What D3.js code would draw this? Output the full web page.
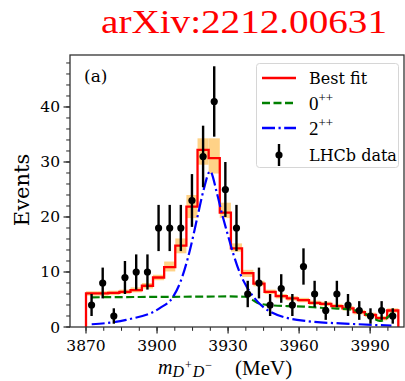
<!DOCTYPE html>
<html>
<head>
<meta charset="utf-8">
<script src="https://cdn.jsdelivr.net/npm/d3@7"></script>
<style>
html,body{margin:0;padding:0;background:#fff;}
svg{display:block;}
</style>
</head>
<body>
<svg id="chart" width="405" height="381"></svg>
<script>
// ---- data ----
const binEdges = [3870.0, 3874.7, 3879.4, 3884.1, 3888.8, 3893.6, 3898.3, 3903.0, 3907.7, 3912.4,
  3917.1, 3921.8, 3926.5, 3931.2, 3935.9, 3940.7, 3945.4, 3950.1, 3954.8, 3959.5,
  3964.2, 3968.9, 3973.6, 3978.3, 3983.0, 3987.8, 3992.5, 3997.2, 4001.9];
const dataCounts = [4, 8, 2, 9, 10, 10, 18, 18, 18, 23, 31, 41, 25, 18, 6, 8, 4, 7, 4, 11, 6, 3, 6, 4, 3, 2, 3, 2];
const dataErrors = [2.0, 2.8, 1.4, 3.0, 3.2, 3.2, 4.2, 4.2, 4.2, 4.8, 5.6, 6.4, 5.0, 4.2, 2.4, 2.8, 2.0, 2.6, 2.0, 3.3, 2.4, 1.7, 2.4, 2.0, 1.7, 1.4, 1.7, 1.4];
const bestFit = [6.1, 6.1, 6.2, 6.4, 6.7, 7.5, 9.0, 10.9, 14.8, 21.9, 32.2, 30.7, 20.8, 14.3, 9.8, 7.9, 6.4, 5.6, 5.2, 4.9, 4.4, 4.2, 3.8, 3.4, 2.7, 2.2, 1.6, 3.0];
const bandLo = [5.7, 5.7, 5.8, 6.0, 6.3, 7.0, 8.5, 10.1, 13.4, 19.8, 29.5, 27.9, 19.8, 13.7, 9.1, 7.4, 6.0, 5.2, 4.8, 4.5, 4.0, 3.8, 3.4, 3.0, 2.3, 1.8, 1.2, 2.6];
const bandHi = [6.5, 6.5, 6.6, 6.8, 7.2, 8.0, 9.5, 11.9, 16.1, 24.0, 34.3, 34.3, 22.6, 15.2, 10.4, 8.4, 6.8, 6.0, 5.6, 5.3, 4.8, 4.6, 4.2, 3.8, 3.1, 2.6, 2.0, 3.4];
// 0++ component (mass MeV, events)
const scalarM = [3872.4, 3890, 3910, 3930, 3937, 3940, 3943, 3947, 3955, 3962, 3969, 3976, 3983, 3987, 3991, 3994, 3997, 3999.2];
const scalarV = [5.4, 5.45, 5.5, 5.55, 5.5, 5.0, 4.3, 4.0, 3.8, 3.7, 3.5, 3.35, 3.1, 2.6, 1.7, 1.1, 1.6, 2.6];
// 2++ component (mass MeV, events)
const tensorM = [3872.4, 3887, 3901, 3906.8, 3909.7, 3913.9, 3916.8, 3919.6, 3922.4, 3925.2, 3927.3, 3929.4, 3932.2, 3935, 3937.9, 3940.7, 3947.7, 3961.7, 3982.8, 3999];
const tensorV = [0.5, 1.3, 3.4, 5.5, 8.0, 14.0, 19.5, 24.8, 28.3, 24.5, 20.8, 17.5, 13.3, 9.8, 7.3, 5.5, 2.8, 1.15, 0.55, 0.25];
const xTicks = [3870, 3900, 3930, 3960, 3990];
const yTicks = [0, 10, 20, 30, 40];
const legendLabels = ["Best fit", "0", "2", "LHCb data"];

// ---- drawing ----
const svg = d3.select("#chart");
const L = 70, R = 404, T = 55, B = 327;
const x = d3.scaleLinear().domain([3863.24, 4004.3]).range([L, R]);
const y = d3.scaleLinear().domain([0, 49.45]).range([B, T]);

svg.append("text").attr("x", 101).attr("y", 33)
  .attr("font-family", "Liberation Serif, Times New Roman, serif")
  .attr("font-size", 34).attr("fill", "#ff0000")
  .attr("textLength", 286).attr("lengthAdjust", "spacingAndGlyphs")
  .text("arXiv:2212.00631");

const plot = svg.append("g");
plot.append("clipPath").attr("id", "clip").append("rect")
  .attr("x", L).attr("y", T).attr("width", R - L).attr("height", B - T);
const g = plot.append("g").attr("clip-path", "url(#clip)");

// uncertainty band
g.selectAll("rect.band").data(bestFit).enter().append("rect")
  .attr("x", (d, i) => x(binEdges[i]))
  .attr("width", (d, i) => x(binEdges[i + 1]) - x(binEdges[i]))
  .attr("y", (d, i) => y(bandHi[i]))
  .attr("height", (d, i) => y(bandLo[i]) - y(bandHi[i]))
  .attr("fill", "#ffd287");

// best-fit step
const stepPts = [[binEdges[0], 0]];
bestFit.forEach((v, i) => { stepPts.push([binEdges[i], v]); stepPts.push([binEdges[i + 1], v]); });
stepPts.push([binEdges[binEdges.length - 1], 0]);
const line = d3.line().x(d => x(d[0])).y(d => y(d[1]));
g.append("path").attr("d", line(stepPts)).attr("fill", "none")
  .attr("stroke", "#ff0000").attr("stroke-width", 2.3);

const smooth = d3.line().x(d => x(d[0])).y(d => y(d[1])).curve(d3.curveMonotoneX);
g.append("path").attr("d", smooth(scalarM.map((m, i) => [m, scalarV[i]])))
  .attr("fill", "none").attr("stroke", "#008000").attr("stroke-width", 2.2)
  .attr("stroke-dasharray", "8,3.5");
g.append("path").attr("d", smooth(tensorM.map((m, i) => [m, tensorV[i]])))
  .attr("fill", "none").attr("stroke", "#0000ff").attr("stroke-width", 2.2)
  .attr("stroke-dasharray", "13,3.5,2.2,3.5");

// data points
const centers = dataCounts.map((c, i) => (binEdges[i] + binEdges[i + 1]) / 2);
g.selectAll("line.err").data(dataCounts).enter().append("line")
  .attr("x1", (d, i) => x(centers[i])).attr("x2", (d, i) => x(centers[i]))
  .attr("y1", (d, i) => y(d + dataErrors[i])).attr("y2", (d, i) => y(d - dataErrors[i]))
  .attr("stroke", "#000").attr("stroke-width", 2.4);
g.selectAll("circle.pt").data(dataCounts).enter().append("circle")
  .attr("cx", (d, i) => x(centers[i])).attr("cy", d => y(d)).attr("r", 3.6).attr("fill", "#000");

// axes
const ax = svg.append("g").attr("font-family", "DejaVu Serif, serif").attr("font-size", 15.5).attr("fill", "#000");
const xMinor = d3.range(3862.5, 4005, 7.5).filter(v => v >= x.domain()[0] && v <= x.domain()[1]);
const yMinor = d3.range(0, 49.45, 2);
ax.selectAll("line.xm").data(xMinor).enter().append("line")
  .attr("x1", d => x(d)).attr("x2", d => x(d)).attr("y1", B).attr("y2", B + 3.8)
  .attr("stroke", "#222").attr("stroke-width", 1);
ax.selectAll("line.xM").data(xTicks).enter().append("line")
  .attr("x1", d => x(d)).attr("x2", d => x(d)).attr("y1", B).attr("y2", B + 6.5)
  .attr("stroke", "#222").attr("stroke-width", 1.2);
ax.selectAll("text.xl").data(xTicks).enter().append("text")
  .attr("x", d => x(d)).attr("y", B + 24).attr("text-anchor", "middle").text(d => d);
ax.selectAll("line.ym").data(yMinor).enter().append("line")
  .attr("x1", L - 3.8).attr("x2", L).attr("y1", d => y(d)).attr("y2", d => y(d))
  .attr("stroke", "#222").attr("stroke-width", 1);
ax.selectAll("line.yM").data(yTicks).enter().append("line")
  .attr("x1", L - 6.5).attr("x2", L).attr("y1", d => y(d)).attr("y2", d => y(d))
  .attr("stroke", "#222").attr("stroke-width", 1.2);
ax.selectAll("text.yl").data(yTicks).enter().append("text")
  .attr("x", L - 10).attr("y", d => y(d) + 5.5).attr("text-anchor", "end").text(d => d);

svg.append("rect").attr("x", L).attr("y", T).attr("width", R - L).attr("height", B - T)
  .attr("fill", "none").attr("stroke", "#333").attr("stroke-width", 1.3);

svg.append("text").attr("transform", `translate(29,${(T + B) / 2 - 1}) rotate(-90)`)
  .attr("text-anchor", "middle").attr("font-family", "DejaVu Serif, serif").attr("font-size", 21)
  .text("Events");

const xl = svg.append("text").attr("x", 158).attr("y", 374)
  .attr("font-family", "Liberation Serif, Times New Roman, serif").attr("font-size", 20);
xl.append("tspan").attr("font-style", "italic").text("m");
xl.append("tspan").attr("font-style", "italic").attr("font-size", 16).attr("dy", 3).text("D");
xl.append("tspan").attr("font-size", 12).attr("dy", -8).attr("dx", 1).text("+");
xl.append("tspan").attr("font-style", "italic").attr("font-size", 16).attr("dy", 8).attr("dx", 1).text("D");
xl.append("tspan").attr("font-size", 12).attr("dy", -8).attr("dx", 1).text("\u2212");
svg.append("text").attr("x", 235).attr("y", 375)
  .attr("font-family", "Liberation Serif, Times New Roman, serif").attr("font-size", 21)
  .text("(MeV)");

svg.append("text").attr("x", 84).attr("y", 82).attr("font-family", "DejaVu Serif, serif")
  .attr("font-size", 17).text("(a)");

// legend
const lg = svg.append("g");
lg.append("rect").attr("x", 256.5).attr("y", 63.5).attr("width", 142).attr("height", 104).attr("rx", 3)
  .attr("fill", "#fff").attr("fill-opacity", 0.85).attr("stroke", "#d6d6d6").attr("stroke-width", 1);
const rows = [78, 103, 128, 155];
const styles = [
  {c: "#ff0000", d: null},
  {c: "#008000", d: "8,3.5"},
  {c: "#0000ff", d: "13,3.5,2.2,3.5"}
];
styles.forEach((s, i) => {
  lg.append("line").attr("x1", 262).attr("x2", 296).attr("y1", rows[i]).attr("y2", rows[i])
    .attr("stroke", s.c).attr("stroke-width", 2.3).attr("stroke-dasharray", s.d);
});
lg.append("line").attr("x1", 279).attr("x2", 279).attr("y1", rows[3] - 11).attr("y2", rows[3] + 11)
  .attr("stroke", "#000").attr("stroke-width", 2.4);
lg.append("circle").attr("cx", 279).attr("cy", rows[3]).attr("r", 3.6).attr("fill", "#000");
const tf = "DejaVu Serif, serif";
lg.append("text").attr("x", 309).attr("y", rows[0] + 6).attr("font-family", tf).attr("font-size", 16).text(legendLabels[0]);
[1, 2].forEach(i => {
  const t = lg.append("text").attr("x", 309).attr("y", rows[i] + 7)
    .attr("font-family", "Liberation Serif, serif").attr("font-size", 19);
  t.append("tspan").text(legendLabels[i]);
  t.append("tspan").attr("font-size", 13).attr("dy", -8).text("++");
});
lg.append("text").attr("x", 309).attr("y", rows[3] + 6).attr("font-family", tf).attr("font-size", 16).text(legendLabels[3]);
</script>
</body>
</html>
